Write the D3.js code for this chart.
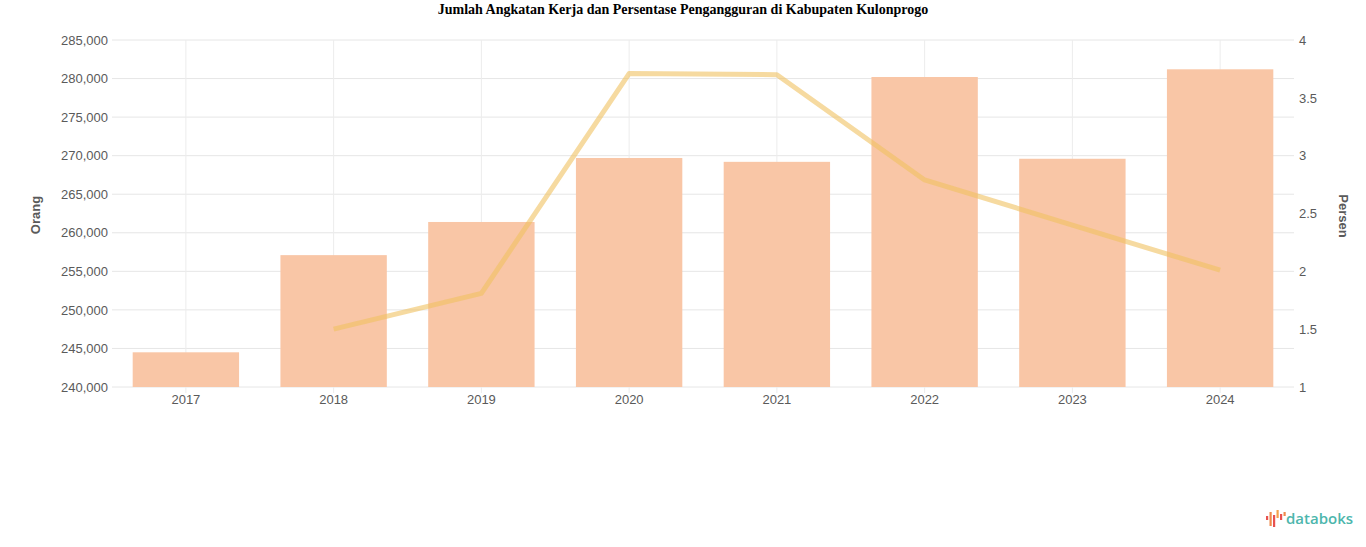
<!DOCTYPE html>
<html>
<head>
<meta charset="utf-8">
<script src="https://cdn.jsdelivr.net/npm/d3@7"></script>
<style>
  html, body { margin: 0; padding: 0; background: #fff; }
  svg { display: block; }
</style>
</head>
<body>
<svg id="chart" width="1366" height="547"></svg>
<script>
// ---- Data ----
const years = ["2017", "2018", "2019", "2020", "2021", "2022", "2023", "2024"];
const labourForce = [244500, 257100, 261400, 269700, 269200, 280200, 269600, 281200];
const unemploymentPct = [null, 1.50, 1.81, 3.71, 3.70, 2.79, 2.40, 2.01];
const leftTicks = [240000, 245000, 250000, 255000, 260000, 265000, 270000, 275000, 280000, 285000];
const rightTicks = [1, 1.5, 2, 2.5, 3, 3.5, 4];
const titleText = "Jumlah Angkatan Kerja dan Persentase Pengangguran di Kabupaten Kulonprogo";
const leftAxisTitle = "Orang";
const rightAxisTitle = "Persen";

// ---- Layout ----
const svg = d3.select("#chart");
const plot = { left: 112, right: 1294, top: 40, bottom: 387 };

const x = d3.scaleBand().domain(years).range([plot.left, plot.right]).paddingInner(0).paddingOuter(0);
const yL = d3.scaleLinear().domain([240000, 285000]).range([plot.bottom, plot.top]);
const yR = d3.scaleLinear().domain([1, 4]).range([plot.bottom, plot.top]);

// Title
svg.append("text")
  .attr("x", 683).attr("y", 14)
  .attr("text-anchor", "middle")
  .style("font-family", "'Liberation Serif', 'Times New Roman', serif")
  .style("font-weight", "bold")
  .style("font-size", "14px")
  .attr("fill", "#000")
  .text(titleText);

// Grid
const grid = svg.append("g");
grid.selectAll("line.h").data(leftTicks).join("line")
  .attr("x1", plot.left).attr("x2", plot.right)
  .attr("y1", d => yL(d)).attr("y2", d => yL(d))
  .attr("stroke", "#e6e6e6").attr("stroke-width", 1);
grid.selectAll("line.v").data(years).join("line")
  .attr("x1", d => x(d) + x.bandwidth() / 2).attr("x2", d => x(d) + x.bandwidth() / 2)
  .attr("y1", plot.top).attr("y2", plot.bottom + 6)
  .attr("stroke", "#ececec").attr("stroke-width", 1);

// Bars
const barW = x.bandwidth() * 0.72;
svg.append("g").selectAll("rect").data(years).join("rect")
  .attr("x", d => x(d) + (x.bandwidth() - barW) / 2)
  .attr("width", barW)
  .attr("y", (d, i) => yL(labourForce[i]))
  .attr("height", (d, i) => plot.bottom - yL(labourForce[i]))
  .attr("fill", "#f9c6a6");

// Line
const lineData = years.map((d, i) => ({ year: d, v: unemploymentPct[i] }));
const line = d3.line()
  .defined(d => d.v !== null)
  .x(d => x(d.year) + x.bandwidth() / 2)
  .y(d => yR(d.v));
svg.append("path")
  .datum(lineData)
  .attr("d", line)
  .attr("fill", "none")
  .attr("stroke", "rgb(240,193,97)")
  .attr("stroke-opacity", 0.6)
  .attr("stroke-width", 5)
  .attr("stroke-linejoin", "round");

// Axes
const tickFont = "'Liberation Sans', Arial, Helvetica, sans-serif";
const fmt = d3.format(",");
const axL = svg.append("g")
  .attr("transform", `translate(${plot.left},0)`)
  .call(d3.axisLeft(yL).tickValues(leftTicks).tickFormat(fmt).tickSize(0).tickPadding(4));
const axR = svg.append("g")
  .attr("transform", `translate(${plot.right},0)`)
  .call(d3.axisRight(yR).tickValues(rightTicks).tickFormat(d3.format("")).tickSize(0).tickPadding(5));
const axB = svg.append("g")
  .attr("transform", `translate(0,${plot.bottom})`)
  .call(d3.axisBottom(x).tickSize(0).tickPadding(8));
[axL, axR, axB].forEach(a => {
  a.select(".domain").remove();
  a.selectAll("text")
    .style("font-family", tickFont)
    .style("font-size", "13px")
    .attr("fill", "#5a5a5a");
});

// Axis titles
svg.append("text")
  .attr("transform", "translate(40,215) rotate(-90)")
  .attr("text-anchor", "middle")
  .style("font-family", tickFont).style("font-size", "13px").style("font-weight", "bold")
  .attr("fill", "#5a5a5a")
  .text(leftAxisTitle);
svg.append("text")
  .attr("transform", "translate(1339,216) rotate(90)")
  .attr("text-anchor", "middle")
  .style("font-family", tickFont).style("font-size", "13px").style("font-weight", "bold")
  .attr("fill", "#5a5a5a")
  .text(rightAxisTitle);

// databoks logo
const logo = svg.append("g").attr("transform", "translate(1266,510)");
const iconBars = [
  { dx: 0, y: 6, h: 4, c: "#e8524f" },
  { dx: 3.5, y: 2, h: 14, c: "#f08a4b" },
  { dx: 7, y: 5, h: 12, c: "#e8524f" },
  { dx: 10.5, y: 0, h: 8, c: "#f5a24b" },
  { dx: 14, y: 4, h: 6, c: "#e8524f" },
  { dx: 17.5, y: 2, h: 4, c: "#f08a4b" }
];
logo.selectAll("rect").data(iconBars).join("rect")
  .attr("x", d => d.dx).attr("y", d => d.y)
  .attr("width", 2.2).attr("height", d => d.h)
  .attr("fill", d => d.c);
logo.append("text")
  .attr("x", 20).attr("y", 14)
  .style("font-family", "'Open Sans', 'Noto Sans', sans-serif")
  .style("font-size", "15px")
  .style("font-weight", "600")
  .attr("fill", "#4db6ac")
  .text("databoks");
</script>
</body>
</html>
